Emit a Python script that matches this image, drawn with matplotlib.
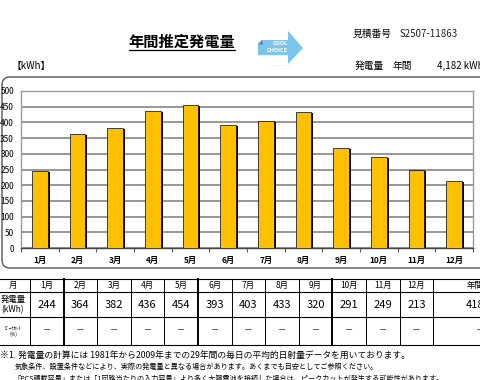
import matplotlib
matplotlib.use('Agg')
import matplotlib.pyplot as plt
import matplotlib.transforms as mtrans
from matplotlib.patches import FancyBboxPatch, Polygon
import numpy as np

plt.rcParams['font.family'] = ['Noto Sans CJK JP', 'DejaVu Sans']

# ---------------------------------------------------------------------------
# data
# ---------------------------------------------------------------------------
months = ['1月', '2月', '3月', '4月', '5月', '6月',
          '7月', '8月', '9月', '10月', '11月', '12月']
output_kwh = [244, 364, 382, 436, 454, 393, 403, 433, 320, 291, 249, 213]
annual_total = 4182
peak_cut = ['－'] * 12
annual_peak_cut = '－'
y_ticks = [0, 50, 100, 150, 200, 250, 300, 350, 400, 450, 500]
quote_no = 'S2507-11863'
annual_text = '4,182 kWh'
notes = [
    '※1. 発電量の計算には 1981年から2009年までの29年間の毎日の平均的日射量データを用いております。',
    '気象条件、設置条件などにより、実際の発電量と異なる場合があります。あくまでも目安としてご参照ください。',
    '「PCS積載容量」または「1回路当たりの入力容量」より多く太陽電池を接続した場合は、ピークカットが発生する可能性があります。',
]

# ---------------------------------------------------------------------------
# page layout (pixels)
# ---------------------------------------------------------------------------
W, H = 480, 380
fig = plt.figure(figsize=(4.8, 3.8), dpi=100)
fig.patch.set_facecolor('white')

bg = fig.add_axes([0, 0, 1, 1])
bg.set_xlim(0, W)
bg.set_ylim(H, 0)
bg.axis('off')

# header
bg.text(182, 42, '年間推定発電量', fontsize=11, fontweight='bold',
        ha='center', va='center')
bg.plot([129, 235], [50, 50], color='black', lw=0.9)
bg.text(353, 34, '見積番号', fontsize=7, va='center')
bg.text(400, 34, quote_no, fontsize=7, va='center', color='#222222')
bg.text(12, 66, '【kWh】', fontsize=7, va='center')
bg.text(355, 66, '発電量', fontsize=7, va='center')
bg.text(393, 66, '年間', fontsize=7, va='center')
bg.text(437, 66, annual_text, fontsize=7, va='center')

# COOL CHOICE logo
logo = Polygon([(262, 40), (288, 40), (288, 31), (303, 48), (288, 64),
                (288, 55), (258, 55), (258, 44)],
               closed=True, facecolor='#7cc4ea', edgecolor='none')
bg.add_patch(logo)
bg.add_patch(Polygon([(258, 44), (262, 40), (263, 45)], closed=True,
                     facecolor='#3a8fc8', edgecolor='none'))
bg.text(280, 43.5, 'COOL', fontsize=4, color='white', fontweight='bold',
        ha='center', va='center')
bg.text(277, 51, 'CHOICE', fontsize=4, color='white', fontweight='bold',
        ha='center', va='center')
bg.text(281, 66, '･･･････ ･･････', fontsize=2.5, color='#9ab8cc',
        ha='center', va='center')

# rounded frame around the chart
bg.add_patch(FancyBboxPatch((2, 77), 520, 191,
                            boxstyle='round,pad=0,rounding_size=8',
                            facecolor='none', edgecolor='#555555', lw=1.0))

# ---------------------------------------------------------------------------
# bar chart
# ---------------------------------------------------------------------------
ax = fig.add_axes([21 / W, 1 - 248 / H, 452 / W, 157 / H])
ax.set_facecolor('white')
x = np.arange(len(months))
shadow = mtrans.offset_copy(ax.transData, fig=fig, x=2, y=-1, units='dots')
ax.bar(x, output_kwh, width=0.42, color='black', transform=shadow, zorder=2)
ax.bar(x, output_kwh, width=0.42, color='#ffc000', edgecolor='black',
       linewidth=0.5, zorder=3)

ax.set_xlim(-0.5, len(months) - 0.5)
ax.set_ylim(0, 500)
ax.set_yticks(y_ticks)
ax.set_yticklabels([str(v) for v in y_ticks], fontsize=6)
ax.set_xticks(x)
ax.set_xticklabels(months, fontsize=6, fontweight='bold')
ax.set_xticks(np.arange(-0.5, len(months)), minor=True)
ax.tick_params(axis='x', which='major', length=0, pad=6)
ax.tick_params(axis='x', which='minor', length=3, color='#555555', width=0.8)
ax.tick_params(axis='y', length=0, pad=5)
ax.grid(axis='y', color='#8f8f8f', lw=1.3, zorder=0)
ax.set_axisbelow(True)
for side in ['top', 'right', 'left']:
    ax.spines[side].set_color('#9a9a9a')
    ax.spines[side].set_linewidth(1.0)
ax.spines['bottom'].set_color('#444444')
ax.spines['bottom'].set_linewidth(1.0)

# ---------------------------------------------------------------------------
# table below the chart
# ---------------------------------------------------------------------------
col_edges = [-4, 30] + list(30 + 33.6 * np.arange(1, 13)) + [520]
row_edges = [279, 292, 317, 345]
thick_cols = {2, 6, 10}

for i, xe in enumerate(col_edges[1:-1], start=1):
    bg.plot([xe, xe], [row_edges[0], row_edges[-1]], color='black',
            lw=1.4 if i in thick_cols else 0.7)
for ye in row_edges:
    bg.plot([0, W], [ye, ye], color='black', lw=0.8)

centers = [(a + b) / 2 for a, b in zip(col_edges[:-1], col_edges[1:])]
row_mid = [(a + b) / 2 for a, b in zip(row_edges[:-1], row_edges[1:])]

bg.text(centers[0], row_mid[0], '月', fontsize=6, ha='center', va='center')
bg.text(centers[0], row_mid[1], '発電量\n(kWh)', fontsize=6, ha='center',
        va='center', linespacing=1.1)
bg.text(centers[0], row_mid[2], 'ﾋﾟｰｸｶｯﾄ\n(%)', fontsize=3.5, ha='center',
        va='center', linespacing=1.4)
for i, m in enumerate(months):
    c = centers[i + 1]
    bg.text(c, row_mid[0], m, fontsize=6, ha='center', va='center')
    bg.text(c, row_mid[1], str(output_kwh[i]), fontsize=8, ha='center',
            va='center')
    bg.text(c, row_mid[2], peak_cut[i], fontsize=6, ha='center',
            va='center', color='#333333')
bg.text(467, row_mid[0], '年間', fontsize=6, va='center')
bg.text(466, row_mid[1], str(annual_total), fontsize=8, va='center')
bg.text(476, row_mid[2], annual_peak_cut, fontsize=6, va='center',
        color='#333333')

# footnotes
note_x = [0, 15, 13]
note_size = [6.3, 5.1, 5.1]
for k, line in enumerate(notes):
    bg.text(note_x[k], 355 + 12 * k, line, fontsize=note_size[k],
            va='center')

fig.savefig('out.png', dpi=100)
